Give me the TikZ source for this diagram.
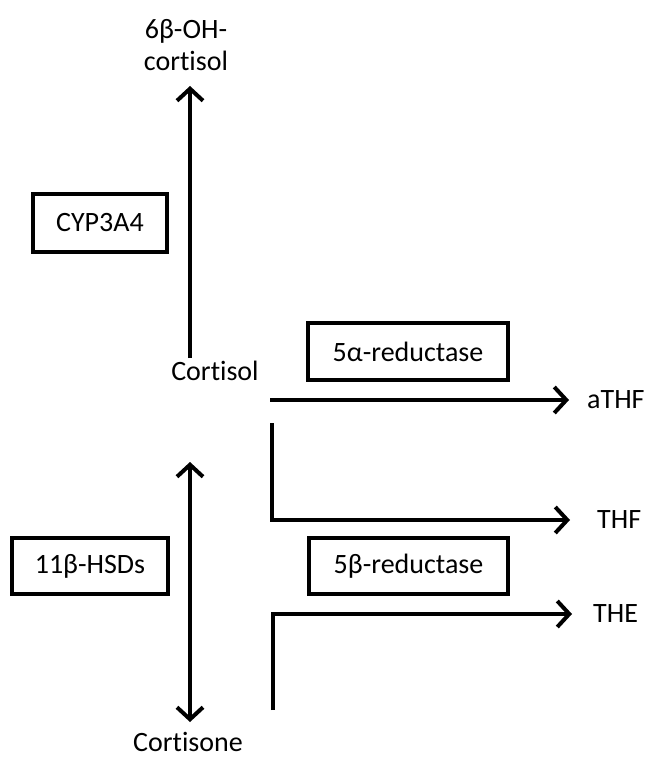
\documentclass[tikz,border=0pt]{standalone}
\usepackage{fontspec}
\setmainfont[Ligatures=NoCommon]{Carlito}
\usetikzlibrary{arrows.meta}
\begin{document}
\begin{tikzpicture}[x=1pt,y=-1pt,
  lbl/.style={inner sep=0pt,font=\fontsize{28}{32}\selectfont},
  enz/.style={draw,line width=4pt,inner sep=0pt,font=\fontsize{28}{32}\selectfont},
  arr/.style={line width=4pt,-{Straight Barb[length=12pt,width=26pt,line width=4pt]}},
  darr/.style={line width=4pt,{Straight Barb[length=12pt,width=26pt,line width=4pt]}-{Straight Barb[length=12pt,width=26pt,line width=4pt]}},
  ln/.style={line width=4pt}]
\useasboundingbox (0,0) rectangle (645,759);
\fill[white] (0,0) rectangle (645,759);
% texts
\node[lbl,align=center] (oh) at (186,45) {6β-OH-\\cortisol};
\node[lbl] (cortisol) at (215,371) {Cortisol};
\node[lbl] (cortisone) at (188,742) {Cortisone};
\node[lbl,anchor=west] (athf) at (587,400) {aTHF};
\node[lbl,anchor=west] (thf) at (597,520) {THF};
\node[lbl,anchor=west] (the) at (593,614) {THE};
% enzyme boxes
\node[enz,minimum width=134pt,minimum height=58pt] (cyp) at (100,223) {CYP3A4};
\node[enz,minimum width=156pt,minimum height=56pt] (hsd) at (90,566) {11β-HSDs};
\node[enz,minimum width=200pt,minimum height=57pt] (alpha) at (408,351.5) {5α-reductase};
\node[enz,minimum width=199pt,minimum height=56pt] (beta) at (408.5,566) {5β-reductase};
% coordinates
\coordinate (upS) at (190,358);
\coordinate (upE) at (190,86);
\coordinate (dT) at (190,462);
\coordinate (dB) at (190,722);
\coordinate (aS) at (270,400);
\coordinate (aE) at (569,400);
\coordinate (fS) at (272,423);
\coordinate (fK) at (272,520);
\coordinate (fE) at (570,520);
\coordinate (eS) at (273,710);
\coordinate (eK) at (273,614);
\coordinate (eE) at (572,614);
% connectors
\draw[arr] (upS) -- (upE);
\draw[darr] (dT) -- (dB);
\draw[arr] (aS) -- (aE);
\draw[arr,line join=miter] (fS) -- (fK) -- (fE);
\draw[arr,line join=miter] (eS) -- (eK) -- (eE);
\end{tikzpicture}
\end{document}
